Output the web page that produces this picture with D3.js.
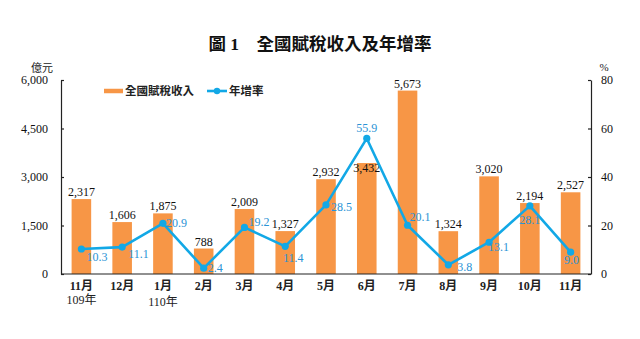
<!DOCTYPE html>
<html>
<head>
<meta charset="utf-8">
<script src="https://cdn.jsdelivr.net/npm/d3@7"></script>
<style>
  html, body { margin: 0; padding: 0; background: #fff; }
  svg { display: block; }
</style>
</head>
<body>
<svg id="chart" width="640" height="339"></svg>
<script>
// Monthly national tax revenue (億元) and year-on-year growth (%)
const months = ["11月", "12月", "1月", "2月", "3月", "4月", "5月", "6月", "7月", "8月", "9月", "10月", "11月"];
const yearNotes = ["109年", "", "110年", "", "", "", "", "", "", "", "", "", ""];
const revenue = [2317, 1606, 1875, 788, 2009, 1327, 2932, 3432, 5673, 1324, 3020, 2194, 2527];
const growth = [10.3, 11.1, 20.9, 2.4, 19.2, 11.4, 28.5, 55.9, 20.1, 3.8, 13.1, 28.1, 9.0];
const leftTicks = [0, 1500, 3000, 4500, 6000];
const rightTicks = [0, 20, 40, 60, 80];

const serif = "'Liberation Serif', 'Times New Roman', 'Noto Sans CJK TC', serif";
const cjk = "'Liberation Serif', 'Noto Sans CJK TC', serif";
const orange = "#F79646";
const blue = "#12A8E6";
const blueText = "#2A93D5";

const svg = d3.select("#chart");
const m = { left: 61, right: 591, top: 80, bottom: 274 };

const x = d3.scaleBand().domain(d3.range(months.length)).range([m.left, m.right]).paddingInner(0.52).paddingOuter(0.26);
const yL = d3.scaleLinear().domain([0, 6000]).range([m.bottom, m.top]);
const yR = d3.scaleLinear().domain([0, 80]).range([m.bottom, m.top]);
const cx = i => x(i) + x.bandwidth() / 2;

// Title
svg.append("text")
  .attr("x", 320).attr("y", 50)
  .attr("text-anchor", "middle")
  .style("font-family", cjk).style("font-weight", "bold").style("font-size", "17.5px")
  .attr("fill", "#111")
  .text("圖 1　全國賦稅收入及年增率");

// Unit labels
svg.append("text").attr("x", 42).attr("y", 72).attr("text-anchor", "middle")
  .style("font-family", cjk).style("font-size", "11px").attr("fill", "#222").text("億元");
svg.append("text").attr("x", 604).attr("y", 71).attr("text-anchor", "middle")
  .style("font-family", serif).style("font-size", "11px").attr("fill", "#222").text("%");

// Bars
svg.append("g").selectAll("rect").data(revenue).join("rect")
  .attr("x", (d, i) => x(i))
  .attr("width", x.bandwidth())
  .attr("y", d => yL(d))
  .attr("height", d => yL(0) - yL(d))
  .attr("fill", orange);

// Axes
const axisStyle = g => {
  g.select(".domain").attr("stroke", "#222").attr("stroke-width", 1.2);
  g.selectAll(".tick line").attr("stroke", "#222").attr("stroke-width", 1.2);
  g.selectAll(".tick text").style("font-family", serif).style("font-size", "12px").attr("fill", "#111");
};
svg.append("g").attr("transform", `translate(${m.left},0)`)
  .call(d3.axisLeft(yL).tickValues(leftTicks).tickFormat(d3.format(",")).tickSizeInner(-3).tickSizeOuter(0).tickPadding(13))
  .call(axisStyle);
svg.append("g").attr("transform", `translate(${m.right},0)`)
  .call(d3.axisRight(yR).tickValues(rightTicks).tickSizeInner(-3).tickSizeOuter(0).tickPadding(10))
  .call(axisStyle);
svg.append("line").attr("x1", m.left).attr("x2", m.right).attr("y1", m.bottom).attr("y2", m.bottom)
  .attr("stroke", "#222").attr("stroke-width", 1.2);

// Category labels
const xl = svg.append("g");
months.forEach((mo, i) => {
  xl.append("text").attr("x", cx(i)).attr("y", 290).attr("text-anchor", "middle")
    .style("font-family", cjk).style("font-size", "12px").style("font-weight", "bold").attr("fill", "#222").text(mo);
  if (yearNotes[i]) {
    xl.append("text").attr("x", cx(i)).attr("y", i === 0 ? 304 : 306).attr("text-anchor", "middle")
      .style("font-family", cjk).style("font-size", "12px").attr("fill", "#222").text(yearNotes[i]);
  }
});

// Revenue value labels (one sits inside its bar to clear the growth label)
svg.append("g").selectAll("text").data(revenue).join("text")
  .attr("x", (d, i) => cx(i))
  .attr("y", (d, i) => yL(d) + (i === 7 ? 9 : -3))
  .attr("text-anchor", "middle")
  .style("font-family", serif).style("font-size", "12px").attr("fill", "#111")
  .text(d => d3.format(",")(d));

// Growth line
const line = d3.line().x((d, i) => cx(i)).y(d => yR(d));
svg.append("path").datum(growth).attr("d", line)
  .attr("fill", "none").attr("stroke", blue).attr("stroke-width", 2.6).attr("stroke-linejoin", "round");
svg.append("g").selectAll("circle").data(growth).join("circle")
  .attr("cx", (d, i) => cx(i)).attr("cy", d => yR(d)).attr("r", 3.6).attr("fill", blue);

// Growth value labels with per-point placement [dx, dy, anchor]
const place = [
  [5, 12, "start"], [6, 11, "start"], [3, 4, "start"], [4, 4, "start"], [4, -1, "start"],
  [8, 16, "middle"], [5, 6, "start"], [0, -6, "middle"], [2, -4, "start"], [9, 6, "start"],
  [-1, 9, "start"], [0, 18, "middle"], [1, 12, "middle"]
];
svg.append("g").selectAll("text").data(growth).join("text")
  .attr("x", (d, i) => cx(i) + place[i][0])
  .attr("y", (d, i) => yR(d) + place[i][1])
  .attr("text-anchor", (d, i) => place[i][2])
  .style("font-family", serif).style("font-size", "12px").attr("fill", blueText)
  .text(d => d3.format(".1f")(d));

// Legend
const lg = svg.append("g");
lg.append("line").attr("x1", 104).attr("x2", 123).attr("y1", 91).attr("y2", 91)
  .attr("stroke", orange).attr("stroke-width", 4.5);
lg.append("text").attr("x", 125).attr("y", 95).style("font-family", cjk).style("font-size", "11.5px")
  .style("font-weight", "bold").attr("fill", "#222").text("全國賦稅收入");
lg.append("line").attr("x1", 207).attr("x2", 227).attr("y1", 91).attr("y2", 91)
  .attr("stroke", blue).attr("stroke-width", 2.6);
lg.append("circle").attr("cx", 217).attr("cy", 91).attr("r", 3.2).attr("fill", blue);
lg.append("text").attr("x", 229).attr("y", 95).style("font-family", cjk).style("font-size", "11.5px")
  .style("font-weight", "bold").attr("fill", "#222").text("年增率");
</script>
</body>
</html>
